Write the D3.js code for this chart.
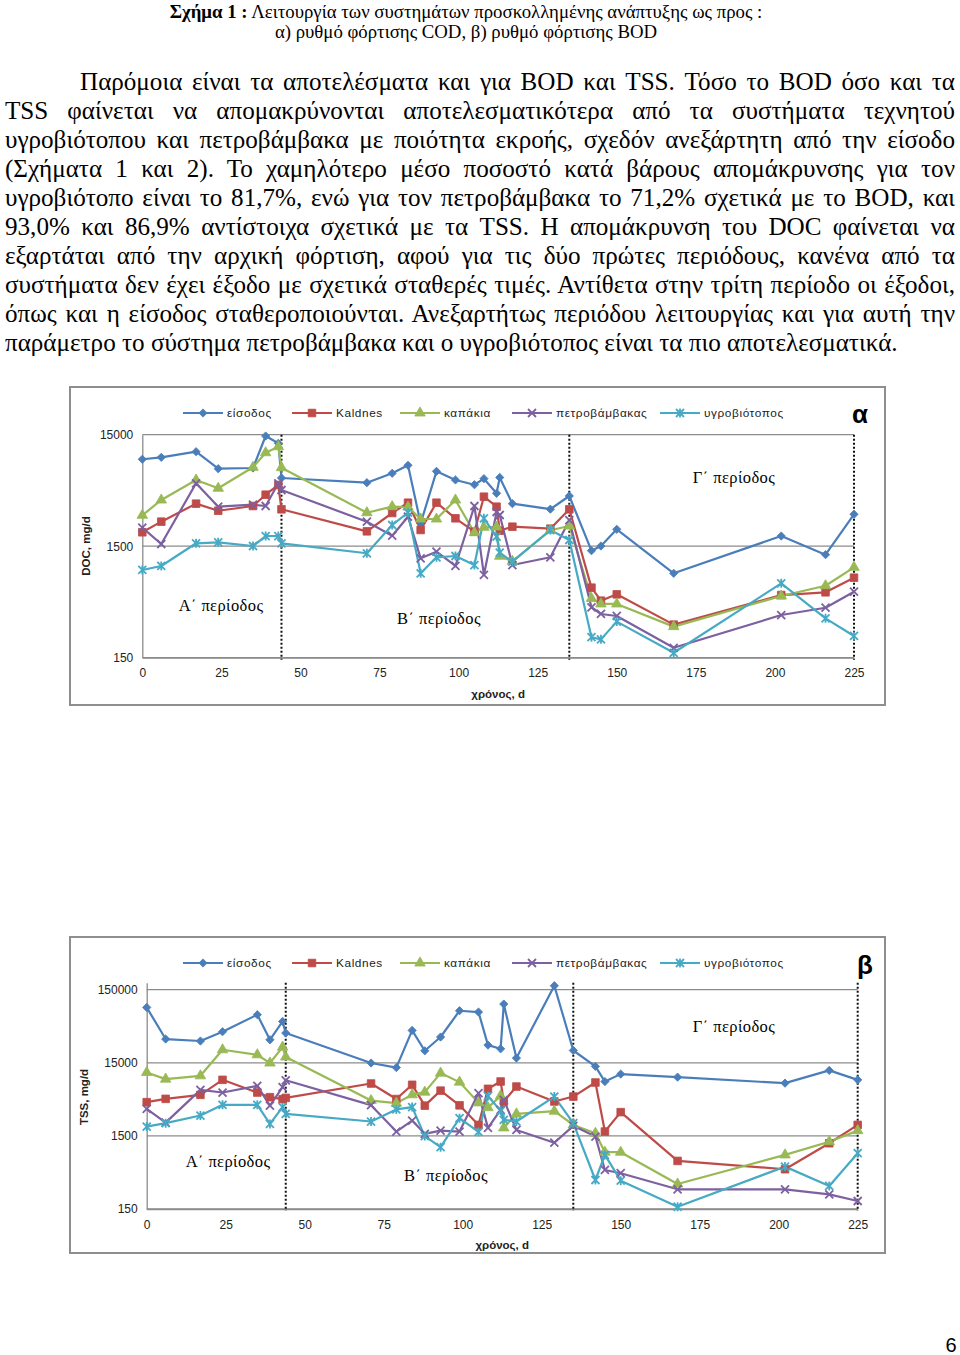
<!DOCTYPE html>
<html><head><meta charset="utf-8">
<script src="https://cdn.jsdelivr.net/npm/d3@7"></script>
<style>body{margin:0;background:#fff} svg{display:block}</style>
</head><body><svg id="page" width="960" height="1355"></svg>
<script>
// ---------------- DATA ----------------
const days = [0,6,17,24,35,39,43,44,71,79,84,88,93,99,105,108,112,113,117,129,135,142,145,150,168,202,216,225];
const seriesNames = ["είσοδος","Kaldnes","καπάκια","πετροβάμβακας","υγροβιότοπος"];
const xTicks = [0,25,50,75,100,125,150,175,200,225];
const periodBreaks = [44,135,225];
const periodLabels = ["Α΄ περίοδος","Β΄ περίοδος","Γ΄ περίοδος"];

// Chart α : DOC, mg/d
const docInlet   = [9030,9400,10560,7430,7540,14600,12560,6135,5570,6760,7975,2400,7040,5890,5340,6050,4470,6200,3610,3220,4230,1367,1506,2126,857,1851,1259,2900];
const docKaldnes = [2000,2490,3610,3120,3440,4345,5310,3214,2040,2978,3683,2096,3683,2669,2024,4169,3392,2066,2244,2154,3214,637,487,555,297,547,579,783];
const docKapakia = [2840,3894,5886,4960,7650,10340,11710,7590,2996,3392,3371,2630,2630,3894,1983,2216,2230,1218,1098,2083,2277,511,455,455,285,536,663,970];
const docPetro   = [2198,1570,5498,3392,3534,3441,5498,4787,2488,1863,2759,1168,1339,997,3441,828,3040,2857,1017,1193,2566,425,370,355,184,362,421,586];
const docYgro    = [918,997,1593,1626,1506,1851,1851,1593,1296,2324,2996,857,1193,1225,1017,2669,1825,1312,1089,2096,1705,229,219,316,166,697,338,235];
const docTicks = [150,1500,15000];

// Chart β : TSS, mg/d
const tssInlet   = [85800,31700,29800,39900,68200,31000,55200,38300,14900,12900,41600,21900,33800,77300,74200,26200,23300,95500,17400,170000,22100,13400,8300,10500,9550,7900,11800,8770];
const tssKaldnes = [4340,4820,5470,8770,5880,5080,4770,4970,7810,4790,7500,3890,6240,3930,2120,6610,8320,4430,7100,4430,5180,8060,1720,3170,682,525,1190,2120];
const tssKapakia = [11050,8970,9950,22600,19300,14900,24600,18000,4570,4210,5470,5950,10840,8160,4250,3650,5300,1930,3000,3270,2120,1630,897,897,330,824,1250,1770];
const tssPetro   = [3520,2280,6400,5880,7260,3900,6970,8640,3950,1720,2430,1600,1770,1720,5770,1930,3410,4670,1810,1210,2060,1470,513,463,279,279,238,193];
const tssYgro    = [2010,2240,2850,3990,3990,2190,3710,3000,2360,3450,3720,1490,1050,2620,1700,5260,3300,2490,2360,5180,2240,374,824,366,161,570,310,869];
const tssTicks = [150,1500,15000,150000];

// ---------------- TEXT ----------------
const captionBold = "Σχήμα 1 :";
const captionRest = " Λειτουργία των συστημάτων προσκολλημένης ανάπτυξης  ως προς :";
const captionLine2 = "α) ρυθμό φόρτισης COD, β) ρυθμό φόρτισης BOD";
const paraLines = [
 "Παρόμοια είναι τα αποτελέσματα και για BOD και TSS. Τόσο το BOD όσο και τα",
 "TSS φαίνεται να απομακρύνονται αποτελεσματικότερα από τα συστήματα τεχνητού",
 "υγροβιότοπου και πετροβάμβακα με ποιότητα εκροής, σχεδόν ανεξάρτητη από την είσοδο",
 "(Σχήματα 1 και 2). Το χαμηλότερο μέσο ποσοστό κατά βάρους απομάκρυνσης για τον",
 "υγροβιότοπο είναι το 81,7%, ενώ για τον πετροβάμβακα το 71,2% σχετικά με το BOD, και",
 "93,0% και 86,9% αντίστοιχα σχετικά με τα TSS. Η απομάκρυνση του DOC φαίνεται να",
 "εξαρτάται από την αρχική φόρτιση, αφού για τις δύο πρώτες περιόδους, κανένα από τα",
 "συστήματα δεν έχει έξοδο με σχετικά σταθερές τιμές. Αντίθετα στην τρίτη περίοδο οι έξοδοι,",
 "όπως και η είσοδος σταθεροποιούνται. Ανεξαρτήτως περιόδου λειτουργίας και για αυτή την",
 "παράμετρο το σύστημα πετροβάμβακα και ο υγροβιότοπος είναι τα πιο αποτελεσματικά."
];

// ---------------- STYLE / LAYOUT ----------------
const colors = ["#4A7EBB","#BE4B48","#98B954","#7D60A0","#46AAC5"];
const markers = ["diamond","square","triangle","x","star"];
const serif = "'Liberation Serif','Times New Roman',serif";
const sans = "'Liberation Sans',Arial,sans-serif";
const svg = d3.select("#page");

// Caption
const cap = svg.append("text").attr("x",466).attr("y",18).attr("text-anchor","middle")
  .style("font-family",serif).style("font-size","18.8px");
cap.append("tspan").attr("font-weight","bold").text(captionBold);
cap.append("tspan").text(captionRest);
svg.append("text").attr("x",466).attr("y",38).attr("text-anchor","middle")
  .style("font-family",serif).style("font-size","18.8px").text(captionLine2);

// Paragraph (justified)
let pfs = 22;
const probe = svg.append("text").style("font-family",serif).style("font-size",pfs+"px").text(paraLines[paraLines.length-1]);
pfs = pfs * 893 / probe.node().getComputedTextLength();
probe.remove();
paraLines.forEach((line,i)=>{
  const x0 = i===0 ? 80 : 5, x1 = 955, yb = 90 + i*29;
  const t = svg.append("text").attr("x",x0).attr("y",yb)
    .style("font-family",serif).style("font-size",pfs+"px").attr("xml:space","preserve").text(line);
  if (i < paraLines.length-1) {
    const nat = t.node().getComputedTextLength();
    const gaps = (line.match(/ /g)||[]).length;
    t.style("word-spacing", ((x1-x0-nat)/gaps)+"px");
  }
});

// Page number
svg.append("text").attr("x",951).attr("y",1352).attr("text-anchor","middle")
  .style("font-family",sans).style("font-size","20px").text("6");

function markerPath(type){
  switch(type){
    case "diamond": return d3.symbol().type(d3.symbolSquare).size(34)();
    case "square": return d3.symbol().type(d3.symbolSquare).size(58)();
    case "triangle": return d3.symbol().type(d3.symbolTriangle).size(48)();
    case "x": return "M-4,-4L4,4M-4,4L4,-4";
    case "star": return "M-4,-4L4,4M-4,4L4,-4M0,-4.5L0,4.5";
  }
}
function addMarker(g, type, color, cx, cy){
  const p = g.append("path").attr("d", markerPath(type))
    .attr("transform", `translate(${cx},${cy})` + (type==="diamond" ? " rotate(45)" : ""));
  if (type==="x" || type==="star") p.attr("fill","none").attr("stroke",color).attr("stroke-width",1.8);
  else p.attr("fill",color).attr("stroke",color).attr("stroke-width",0.8);
}

function drawChart(cfg){
  const g = svg.append("g");
  g.append("rect").attr("x",cfg.frame.x).attr("y",cfg.frame.y).attr("width",cfg.frame.w).attr("height",cfg.frame.h)
    .attr("fill","#fff").attr("stroke","#8e8e8e").attr("stroke-width",2);
  const x = d3.scaleLinear().domain([0,225]).range([cfg.plot.x0,cfg.plot.x1]);
  const y = d3.scaleLog().domain(cfg.yDomain).range([cfg.plot.yBot,cfg.plot.yTop]);

  g.selectAll(".grid").data(cfg.yTicks).enter().append("line")
    .attr("x1",cfg.plot.x0).attr("x2",cfg.plot.x1).attr("y1",d=>y(d)).attr("y2",d=>y(d))
    .attr("stroke","#8c8c8c").attr("stroke-width",1.3);

  const ya = g.append("g").attr("transform",`translate(${cfg.plot.x0},0)`)
    .call(d3.axisLeft(y).tickValues(cfg.yTicks).tickSize(0).tickPadding(9).tickFormat(d3.format("d")));
  const xa = g.append("g").attr("transform",`translate(0,${cfg.plot.yBot})`)
    .call(d3.axisBottom(x).tickValues(xTicks).tickSize(0).tickPadding(11).tickFormat(d3.format("d")));
  [ya,xa].forEach(a=>{
    a.select(".domain").attr("stroke","#8c8c8c").attr("stroke-width",1.3);
    a.selectAll("text").style("font-family",sans).style("font-size","12px").attr("fill","#222");
  });

  g.selectAll(".brk").data(periodBreaks).enter().append("line")
    .attr("x1",d=>x(d)).attr("x2",d=>x(d)).attr("y1",cfg.plot.yTop).attr("y2",cfg.plot.yBot+2)
    .attr("stroke","#111").attr("stroke-width",2).attr("stroke-dasharray","2,2");

  g.append("text").attr("transform",`translate(${cfg.yTitlePos[0]},${cfg.yTitlePos[1]}) rotate(-90)`)
    .attr("text-anchor","middle").style("font-family",sans).style("font-size","11.5px").style("font-weight","bold")
    .attr("fill","#222").text(cfg.yTitle);
  g.append("text").attr("x",(cfg.plot.x0+cfg.plot.x1)/2).attr("y",cfg.plot.yBot+cfg.xTitleDy)
    .attr("text-anchor","middle").style("font-family",sans).style("font-size","11.5px").style("font-weight","bold")
    .attr("fill","#222").text("χρόνος, d");

  cfg.periodPos.forEach((p,i)=>{
    g.append("text").attr("x",p[0]).attr("y",p[1]).attr("text-anchor","middle")
      .style("font-family",serif).style("font-size","16.5px").style("letter-spacing","0.4px").text(periodLabels[i]);
  });

  cfg.series.forEach((vals,si)=>{
    const line = d3.line().x((d,i)=>x(days[i])).y(d=>y(d));
    g.append("path").datum(vals).attr("d",line).attr("fill","none")
      .attr("stroke",colors[si]).attr("stroke-width",2.2).attr("stroke-linejoin","round");
  });
  cfg.series.forEach((vals,si)=>{
    vals.forEach((v,i)=> addMarker(g, markers[si], colors[si], x(days[i]), y(v)));
  });

  const lx = [183,292,400,512,660];
  seriesNames.forEach((n,i)=>{
    const ly = cfg.legendY;
    g.append("line").attr("x1",lx[i]).attr("x2",lx[i]+40).attr("y1",ly).attr("y2",ly)
      .attr("stroke",colors[i]).attr("stroke-width",2.2);
    addMarker(g, markers[i], colors[i], lx[i]+20, ly);
    g.append("text").attr("x",lx[i]+44).attr("y",ly+4).style("font-family",sans).style("font-size","11.8px")
      .style("letter-spacing","0.6px").attr("fill","#222").text(n);
  });

  g.append("text").attr("x",cfg.letterPos[0]).attr("y",cfg.letterPos[1]).attr("text-anchor","middle")
    .style("font-family",sans).style("font-size","26px").style("font-weight","bold").text(cfg.letter);
}

drawChart({
  frame:{x:70,y:387,w:815,h:318},
  plot:{x0:142.3,x1:854,yTop:434.7,yBot:657.7},
  yDomain:[150,15000], yTicks:docTicks,
  series:[docInlet,docKaldnes,docKapakia,docPetro,docYgro],
  yTitle:"DOC, mg/d", yTitlePos:[90,546], xTitleDy:40,
  periodPos:[[221,611],[439,624],[734,483]],
  legendY:413, letter:"α", letterPos:[860,423]
});
drawChart({
  frame:{x:70,y:937,w:815,h:316},
  plot:{x0:146.7,x1:857.7,yTop:982.7,yBot:1209},
  yDomain:[150,187000], yTicks:tssTicks,
  series:[tssInlet,tssKaldnes,tssKapakia,tssPetro,tssYgro],
  yTitle:"TSS, mg/d", yTitlePos:[88,1097], xTitleDy:40,
  periodPos:[[228,1167],[446,1181],[734,1032]],
  legendY:963, letter:"β", letterPos:[865,974]
});
</script></body></html>
